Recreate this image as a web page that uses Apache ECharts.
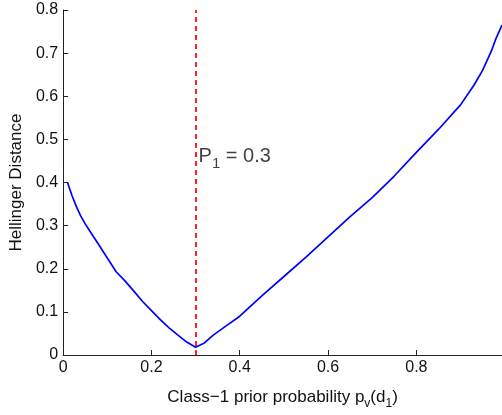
<!DOCTYPE html>
<html>
<head>
<meta charset="utf-8">
<script src="https://cdn.jsdelivr.net/npm/echarts@6/dist/echarts.min.js"></script>
<style>
  html, body { margin: 0; padding: 0; background: #fff; }
  #chart { width: 502px; height: 415px; }
</style>
</head>
<body>
<div id="chart"></div>
<script>
// class-1 prior probability (x) and Hellinger distance (y)
var priorX = [0.01, 0.02, 0.03, 0.04, 0.05, 0.06, 0.08, 0.10, 0.12, 0.14, 0.16, 0.18, 0.20, 0.22, 0.24, 0.26, 0.28, 0.30,
              0.32, 0.34, 0.37, 0.40, 0.45, 0.50, 0.55, 0.60, 0.65, 0.70, 0.75, 0.80, 0.85, 0.90, 0.93, 0.95, 0.97, 0.98, 0.994];
var hellinger = [0.400, 0.370, 0.344, 0.322, 0.304, 0.288, 0.257, 0.225, 0.193, 0.172, 0.148, 0.124, 0.103, 0.082, 0.063, 0.046, 0.030, 0.018,
                 0.028, 0.046, 0.068, 0.090, 0.137, 0.182, 0.227, 0.274, 0.321, 0.365, 0.415, 0.470, 0.523, 0.580, 0.625, 0.660, 0.705, 0.733, 0.765];
// true prior marker
var trueP1 = 0.3;
var labelPos = [0.3, 0.46];

var FONT = 'Liberation Sans';
var chart = echarts.init(document.getElementById('chart'));

var curve = [];
for (var i = 0; i < priorX.length; i++) {
    curve.push([priorX[i], hellinger[i]]);
}

chart.setOption({
    animation: false,
    grid: { left: 62, top: 10, right: 0, bottom: 58 },
    xAxis: {
        type: 'value',
        min: 0,
        max: 0.994,
        interval: 0.2,
        name: 'Class\u22121 prior probability p{s|v}(d{s|1})',
        nameLocation: 'middle',
        nameGap: 30,
        nameTextStyle: {
            fontFamily: FONT, fontSize: 17, color: '#111',
            rich: { s: { fontFamily: FONT, fontSize: 12, color: '#111', padding: [13, 0, 0, 0] } }
        },
        splitLine: { show: false },
        axisLine: { lineStyle: { color: '#222', width: 1 } },
        axisTick: { inside: true, length: 5, lineStyle: { color: '#222' } },
        axisLabel: { showMaxLabel: false, margin: 5, fontFamily: FONT, fontSize: 16, color: '#111' }
    },
    yAxis: {
        type: 'value',
        min: 0,
        max: 0.8,
        interval: 0.1,
        name: 'Hellinger Distance',
        nameLocation: 'middle',
        nameGap: 36,
        nameTextStyle: { fontFamily: FONT, fontSize: 17, color: '#111' },
        splitLine: { show: false },
        axisLine: { show: true, lineStyle: { color: '#222', width: 1 } },
        axisTick: { show: true, inside: true, length: 5, lineStyle: { color: '#222' } },
        axisLabel: { margin: 5, fontFamily: FONT, fontSize: 16, color: '#111' }
    },
    series: [
        {
            type: 'line',
            data: curve,
            showSymbol: false,
            lineStyle: { color: '#0000ff', width: 1.7 },
            markLine: {
                silent: true,
                symbol: 'none',
                label: { show: false },
                lineStyle: { color: '#ff0000', width: 1.7, type: [5, 4] },
                data: [[{ coord: [trueP1, 0] }, { coord: [trueP1, 0.8] }]]
            }
        },
        {
            type: 'scatter',
            data: [labelPos],
            symbolSize: 0,
            silent: true,
            label: {
                show: true,
                position: 'right',
                distance: 3,
                formatter: 'P{s|1} = 0.3',
                fontFamily: FONT,
                fontSize: 20,
                color: '#111',
                rich: { s: { fontFamily: FONT, fontSize: 15, color: '#111', padding: [15, 0, 0, 0] } }
            }
        }
    ]
});
</script>
</body>
</html>
